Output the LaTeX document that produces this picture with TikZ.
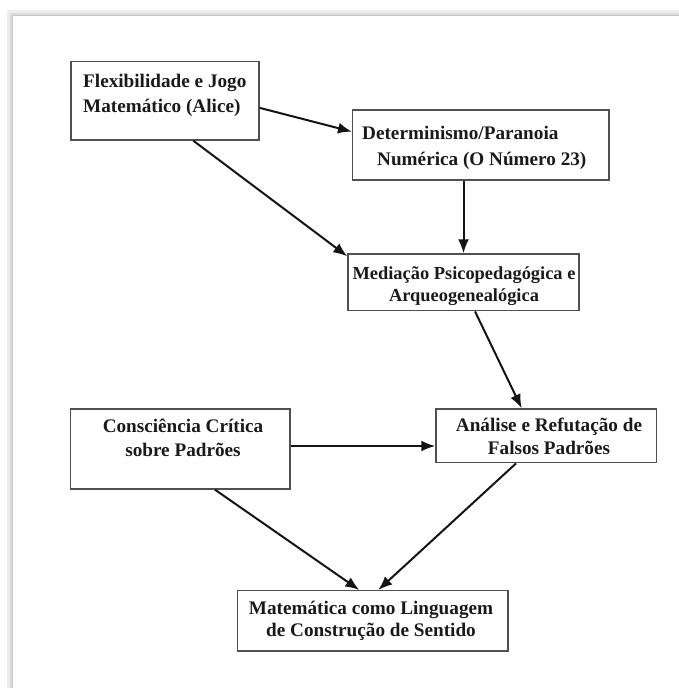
\documentclass[tikz,border=0pt]{standalone}
\usepackage{fontspec}
\setmainfont{Liberation Serif}
\usetikzlibrary{arrows.meta}
\definecolor{inkc}{HTML}{1A1A1A}
\definecolor{boxc}{HTML}{505050}
\begin{document}
\begin{tikzpicture}[x=1pt,y=1pt,
  boxnode/.style={draw=boxc, line width=1.4pt, inner sep=0pt, fill=white},
  txt/.style={font=\bfseries\fontsize{19.2}{23}\selectfont, text=inkc, inner sep=0pt},
  conn/.style={draw=black!92, line width=2pt, -{Latex[length=14pt,width=11pt]}}
]
\useasboundingbox (0,0) rectangle (679,-688);
\fill[white] (0,0) rectangle (679,-688);
% page shadow frame
\draw[black!7, line width=5pt] (9,-688) -- (9,-12) -- (679,-12);
\draw[black!14, line width=2.2pt] (11,-688) -- (11,-14) -- (679,-14);
\draw[black!22, line width=0.8pt] (12.5,-688) -- (12.5,-15.5) -- (679,-15.5);

% boxes
\node[boxnode, minimum width=188pt, minimum height=78.3pt] (a) at (165,-100.85) {};
\node[boxnode, minimum width=256.3pt, minimum height=70pt] (b) at (480.85,-145) {};
\node[boxnode, minimum width=231pt, minimum height=56.7pt] (c) at (463.5,-282.35) {};
\node[boxnode, minimum width=219.3pt, minimum height=80pt] (d) at (180.35,-449) {};
\node[boxnode, minimum width=220.7pt, minimum height=53.7pt] (e) at (546.35,-435.85) {};
\node[boxnode, minimum width=270.3pt, minimum height=60.3pt] (f) at (372.85,-620.85) {};

% texts
\node[txt, align=left, anchor=north west] (at) at (83,-70.9)
  {\strut Flexibilidade e Jogo\\[2pt]Matemático (Alice)};
\node[txt, align=left, anchor=north west] (bt) at (362,-122.9)
  {\strut Determinismo/Paranoia\\[3.7pt]\hspace*{15pt}Numérica (O Número 23)};
\node[txt, font=\bfseries\fontsize{18.4}{23}\selectfont, align=center, anchor=north] (ct) at (464,-263.4)
  {\strut Mediação Psicopedagógica e\\[-1pt]Arqueogenealógica};
\node[txt, align=center, anchor=north] (dt) at (183,-416.2)
  {\strut Consciência Crítica\\[0.7pt]sobre Padrões};
\node[txt, align=center, anchor=north] (et) at (549,-414.9)
  {\strut Análise e Refutação de\\[0.3pt]Falsos Padrões};
\node[txt, align=center, anchor=north] (ft) at (371,-597.9)
  {\strut Matemática como Linguagem\\[-0.5pt]de Construção de Sentido};

% connectors
\draw[conn] ([yshift=-7pt]a.east) -- ([yshift=13.3pt]b.west);
\draw[conn] ([xshift=28.3pt]a.south) -- ([yshift=-3pt]c.north west);
\draw[conn] (b.south -| c.north) -- (c.north);
\draw[conn] ([xshift=11.5pt]c.south) -- ([xshift=-24.65pt]e.north);
\draw[conn] ([yshift=3pt]d.east) -- ([yshift=3pt]d.east -| e.west);
\draw[conn] ([xshift=34.65pt]d.south) -- ([xshift=-13.55pt]f.north);
\draw[conn] ([xshift=-30.35pt]e.south) -- ([xshift=5.45pt]f.north);
\end{tikzpicture}
\end{document}
